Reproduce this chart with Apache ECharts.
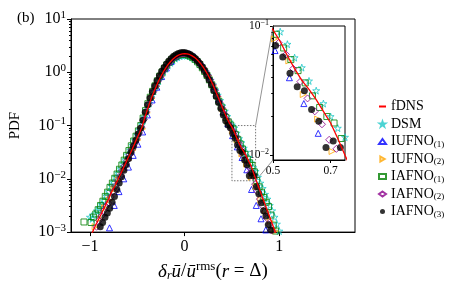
<!DOCTYPE html>
<html><head><meta charset="utf-8">
<script src="https://cdn.jsdelivr.net/npm/echarts@6/dist/echarts.min.js"></script>
<style>html,body{margin:0;padding:0;background:#fff}#c{width:462px;height:287px}</style>
</head><body><div id="c"></div>
<script>
// ---- data: [x, log10(PDF)] ----
const fdns = [[-1.0,-3.1],[-0.975,-3.01],[-0.95,-2.91],[-0.925,-2.82],[-0.9,-2.73],[-0.875,-2.64],[-0.85,-2.55],[-0.825,-2.46],[-0.8,-2.37],[-0.775,-2.26],[-0.75,-2.18],[-0.725,-2.09],[-0.7,-2.0],[-0.675,-1.91],[-0.65,-1.81],[-0.625,-1.72],[-0.6,-1.62],[-0.575,-1.53],[-0.55,-1.43],[-0.525,-1.33],[-0.5,-1.23],[-0.475,-1.13],[-0.45,-1.027],[-0.425,-0.878],[-0.4,-0.738],[-0.375,-0.606],[-0.35,-0.48],[-0.325,-0.368],[-0.3,-0.262],[-0.275,-0.164],[-0.25,-0.075],[-0.225,0.006],[-0.2,0.078],[-0.175,0.142],[-0.15,0.197],[-0.125,0.244],[-0.1,0.282],[-0.075,0.312],[-0.05,0.333],[-0.025,0.346],[0,0.35],[0.025,0.346],[0.05,0.334],[0.075,0.313],[0.1,0.285],[0.125,0.248],[0.15,0.203],[0.175,0.15],[0.2,0.088],[0.225,0.018],[0.25,-0.06],[0.275,-0.145],[0.3,-0.238],[0.325,-0.345],[0.35,-0.45],[0.375,-0.56],[0.4,-0.665],[0.425,-0.77],[0.45,-0.87],[0.475,-0.96],[0.5,-1.03],[0.525,-1.12],[0.55,-1.23],[0.575,-1.33],[0.6,-1.42],[0.625,-1.49],[0.65,-1.57],[0.675,-1.66],[0.7,-1.75],[0.725,-1.87],[0.75,-2.0],[0.775,-2.12],[0.8,-2.24],[0.825,-2.36],[0.85,-2.48],[0.875,-2.6],[0.9,-2.72],[0.925,-2.84],[0.95,-2.96],[0.975,-3.08]];

const dsm = [[-1.0,-2.72],[-0.975,-2.75],[-0.95,-2.66],[-0.925,-2.6],[-0.9,-2.55],[-0.875,-2.48],[-0.85,-2.4],[-0.825,-2.32],[-0.8,-2.24],[-0.775,-2.13],[-0.75,-2.06],[-0.725,-1.97],[-0.7,-1.89],[-0.675,-1.81],[-0.65,-1.72],[-0.625,-1.64],[-0.6,-1.55],[-0.575,-1.46],[-0.55,-1.37],[-0.525,-1.27],[-0.5,-1.18],[-0.475,-1.08],[-0.45,-0.98],[-0.425,-0.84],[-0.4,-0.71],[-0.375,-0.585],[-0.35,-0.465],[-0.325,-0.358],[-0.3,-0.258],[-0.275,-0.165],[-0.25,-0.08],[-0.225,-0.003],[-0.2,0.066],[-0.175,0.126],[-0.15,0.178],[-0.125,0.222],[-0.1,0.257],[-0.075,0.284],[-0.05,0.302],[-0.025,0.313],[0,0.316],[0.025,0.312],[0.05,0.301],[0.075,0.283],[0.1,0.257],[0.125,0.223],[0.15,0.181],[0.175,0.131],[0.2,0.072],[0.225,0.006],[0.25,-0.068],[0.275,-0.148],[0.3,-0.236],[0.325,-0.33],[0.35,-0.43],[0.375,-0.53],[0.4,-0.63],[0.425,-0.73],[0.45,-0.83],[0.475,-0.93],[0.5,-0.99],[0.525,-1.044],[0.55,-1.141],[0.575,-1.245],[0.6,-1.322],[0.625,-1.425],[0.65,-1.5],[0.675,-1.6],[0.7,-1.7],[0.725,-1.79],[0.75,-1.86],[0.775,-1.97],[0.8,-2.08],[0.825,-2.18],[0.85,-2.29],[0.875,-2.38],[0.9,-2.5],[0.925,-2.6],[0.95,-2.72],[0.975,-2.85],[1.0,-2.98]];

const iufno1 = [[-0.8,-2.92],[-0.75,-2.5],[-0.7,-2.24],[-0.65,-2.0],[-0.6,-1.78],[-0.55,-1.56],[-0.5,-1.35],[-0.45,-1.12],[-0.4,-0.8],[-0.35,-0.52],[-0.3,-0.28],[-0.25,-0.08],[-0.2,0.08],[-0.15,0.2],[-0.1,0.29],[-0.05,0.345],[0,0.362],[0.05,0.345],[0.1,0.293],[0.15,0.206],[0.2,0.085],[0.25,-0.075],[0.3,-0.27],[0.35,-0.5],[0.4,-0.74],[0.45,-0.97],[0.5,-1.19],[0.55,-1.4],[0.6,-1.6],[0.65,-1.83],[0.7,-2.2],[0.75,-2.5],[0.8,-2.75],[0.85,-2.96]];

const iufno2 = [[-0.95,-2.9],[-0.9,-2.75],[-0.85,-2.55],[-0.8,-2.4],[-0.75,-2.2],[-0.7,-2.02],[-0.65,-1.84],[-0.6,-1.65],[-0.55,-1.46],[-0.5,-1.27],[-0.45,-1.06],[-0.4,-0.76],[-0.35,-0.49],[-0.3,-0.265],[-0.25,-0.075],[-0.2,0.08],[-0.15,0.2],[-0.1,0.285],[-0.05,0.338],[0,0.355],[0.05,0.338],[0.1,0.288],[0.15,0.203],[0.2,0.085],[0.25,-0.065],[0.3,-0.245],[0.35,-0.46],[0.4,-0.69],[0.45,-0.91],[0.5,-1.1],[0.55,-1.27],[0.6,-1.53],[0.65,-1.72],[0.7,-1.97],[0.75,-2.15],[0.8,-2.4],[0.85,-2.6],[0.9,-2.8],[0.95,-2.98]];

const iafno1 = [[-1.05,-2.81],[-0.975,-2.82],[-0.95,-2.72],[-0.925,-2.66],[-0.9,-2.58],[-0.875,-2.5],[-0.85,-2.42],[-0.825,-2.33],[-0.8,-2.25],[-0.775,-2.16],[-0.75,-2.08],[-0.725,-1.99],[-0.7,-1.91],[-0.675,-1.82],[-0.65,-1.74],[-0.625,-1.65],[-0.6,-1.56],[-0.575,-1.47],[-0.55,-1.38],[-0.525,-1.29],[-0.5,-1.2],[-0.475,-1.1],[-0.45,-1.0],[-0.425,-0.86],[-0.4,-0.72],[-0.375,-0.59],[-0.35,-0.468],[-0.325,-0.358],[-0.3,-0.255],[-0.275,-0.16],[-0.25,-0.073],[-0.225,0.006],[-0.2,0.075],[-0.175,0.138],[-0.15,0.19],[-0.125,0.236],[-0.1,0.273],[-0.075,0.302],[-0.05,0.322],[-0.025,0.334],[0,0.338],[0.025,0.334],[0.05,0.322],[0.075,0.302],[0.1,0.275],[0.125,0.24],[0.15,0.196],[0.175,0.145],[0.2,0.084],[0.225,0.016],[0.25,-0.06],[0.275,-0.143],[0.3,-0.235],[0.325,-0.335],[0.35,-0.44],[0.375,-0.545],[0.4,-0.65],[0.425,-0.75],[0.45,-0.85],[0.475,-0.93],[0.5,-0.99],[0.525,-1.064],[0.55,-1.17],[0.575,-1.26],[0.6,-1.345],[0.625,-1.44],[0.65,-1.54],[0.675,-1.63],[0.7,-1.7],[0.725,-1.75],[0.75,-1.87],[0.775,-2.03],[0.8,-2.15],[0.825,-2.25],[0.85,-2.35],[0.875,-2.44],[0.9,-2.52],[0.925,-2.68],[0.95,-2.87],[0.975,-2.98]];

const iafno2 = [[-0.925,-2.9],[-0.9,-2.78],[-0.875,-2.7],[-0.85,-2.6],[-0.825,-2.52],[-0.8,-2.46],[-0.775,-2.34],[-0.75,-2.24],[-0.725,-2.13],[-0.7,-2.03],[-0.675,-1.94],[-0.65,-1.84],[-0.625,-1.75],[-0.6,-1.65],[-0.575,-1.55],[-0.55,-1.45],[-0.525,-1.35],[-0.5,-1.25],[-0.475,-1.14],[-0.45,-1.03],[-0.425,-0.885],[-0.4,-0.74],[-0.375,-0.605],[-0.35,-0.478],[-0.325,-0.366],[-0.3,-0.26],[-0.275,-0.162],[-0.25,-0.073],[-0.225,0.008],[-0.2,0.08],[-0.175,0.144],[-0.15,0.199],[-0.125,0.246],[-0.1,0.284],[-0.075,0.314],[-0.05,0.335],[-0.025,0.348],[0,0.352],[0.025,0.348],[0.05,0.336],[0.075,0.315],[0.1,0.287],[0.125,0.25],[0.15,0.205],[0.175,0.152],[0.2,0.09],[0.225,0.02],[0.25,-0.058],[0.275,-0.143],[0.3,-0.236],[0.325,-0.343],[0.35,-0.45],[0.375,-0.562],[0.4,-0.67],[0.425,-0.78],[0.45,-0.885],[0.475,-0.98],[0.5,-1.07],[0.525,-1.13],[0.55,-1.22],[0.575,-1.33],[0.6,-1.43],[0.625,-1.56],[0.65,-1.66],[0.675,-1.76],[0.7,-1.88],[0.725,-1.95],[0.75,-2.1],[0.775,-2.24],[0.8,-2.38],[0.825,-2.5],[0.85,-2.62],[0.875,-2.74],[0.9,-2.86],[0.925,-2.97]];

const iafno3 = [[-0.875,-2.9],[-0.85,-2.82],[-0.825,-2.72],[-0.8,-2.64],[-0.775,-2.55],[-0.75,-2.44],[-0.725,-2.33],[-0.7,-2.2],[-0.675,-2.08],[-0.65,-1.96],[-0.625,-1.84],[-0.6,-1.73],[-0.575,-1.62],[-0.55,-1.5],[-0.525,-1.39],[-0.5,-1.28],[-0.475,-1.16],[-0.45,-1.05],[-0.425,-0.9],[-0.4,-0.75],[-0.375,-0.61],[-0.35,-0.482],[-0.325,-0.366],[-0.3,-0.258],[-0.275,-0.158],[-0.25,-0.066],[-0.225,0.017],[-0.2,0.091],[-0.175,0.156],[-0.15,0.212],[-0.125,0.26],[-0.1,0.3],[-0.075,0.33],[-0.05,0.352],[-0.025,0.365],[0,0.37],[0.025,0.366],[0.05,0.353],[0.075,0.332],[0.1,0.302],[0.125,0.264],[0.15,0.218],[0.175,0.163],[0.2,0.1],[0.225,0.028],[0.25,-0.052],[0.275,-0.14],[0.3,-0.235],[0.325,-0.34],[0.35,-0.45],[0.375,-0.565],[0.4,-0.68],[0.425,-0.8],[0.45,-0.91],[0.475,-0.99],[0.5,-1.04],[0.525,-1.15],[0.55,-1.24],[0.575,-1.365],[0.6,-1.47],[0.625,-1.5],[0.65,-1.646],[0.675,-1.736],[0.7,-1.94],[0.725,-1.89],[0.75,-1.94],[0.775,-2.15],[0.8,-2.28],[0.825,-2.45],[0.85,-2.6],[0.875,-2.7],[0.9,-2.86],[0.925,-2.96]];

// bin-centre offsets of each model's histogram
const binOffset = { 'DSM': 0, 'IUFNO(1)': 0.007, 'IUFNO(2)': 0.005, 'IAFNO(1)': -0.013, 'IAFNO(2)': -0.005, 'IAFNO(3)': -0.016 };

const seriesNames = ['fDNS', 'DSM', 'IUFNO(1)', 'IUFNO(2)', 'IAFNO(1)', 'IAFNO(2)', 'IAFNO(3)'];
const xTickLabels = [-1, 0, 1];
const yTickLabels = [0.001, 0.01, 0.1, 1, 10];
const zoomX = [0.5, 0.75];
const zoomY = [0.0092, 0.1];
const zoomXTicks = [0.5, 0.7];
const zoomYTicks = [0.01, 0.1];

// ---- build ----
const FONT = 'Liberation Serif';
function toPts(pairs, off) { return pairs.map(p => [p[0] + (off || 0), Math.pow(10, p[1])]); }
function minorTicks(lo, hi) { const out = []; for (let e = lo; e < hi; e++) for (let m = 2; m <= 9; m++) out.push(m * Math.pow(10, e)); return out; }
function powLabel(v) { const e = Math.round(Math.log10(v)); return '{n|10}{e|' + (e < 0 ? '\u2212' + (-e) : e) + '}'; }

const STAR = 'path://M12,0 L14.9,8.5 L24,8.5 L16.6,13.9 L19.4,22.5 L12,17.1 L4.6,22.5 L7.4,13.9 L0,8.5 L9.1,8.5 Z';
const RTRI = 'path://M0,0 L8.66,5 L0,10 Z';
const markers = {
  'DSM':      { symbol: STAR, color: '#1ec8c8', size: 7, rot: 0, fill: false },
  'IUFNO(1)': { symbol: 'triangle', color: '#0000ff', size: 6, rot: 0, fill: false },
  'IUFNO(2)': { symbol: 'triangle', color: '#ffa500', size: 6, rot: -90, fill: false },
  'IAFNO(1)': { symbol: 'rect', color: '#008000', size: 6, rot: 0, fill: false },
  'IAFNO(2)': { symbol: 'diamond', color: '#8b008b', size: 7, rot: 0, fill: false },
  'IAFNO(3)': { symbol: 'circle', color: '#000000', size: 7, rot: 0, fill: true }
};
const modelData = { 'DSM': dsm, 'IUFNO(1)': iufno1, 'IUFNO(2)': iufno2, 'IAFNO(1)': iafno1, 'IAFNO(2)': iafno2, 'IAFNO(3)': iafno3 };

const series = [];
[[0, 0], [1, 2]].forEach(([xi, yi]) => {
  Object.keys(markers).forEach(name => {
    const m = markers[name];
    series.push({
      type: 'scatter', name: name, xAxisIndex: xi, yAxisIndex: yi,
      data: toPts(modelData[name], binOffset[name]),
      symbol: m.symbol, symbolSize: m.size, symbolRotate: m.rot, clip: true,
      itemStyle: m.fill ? { color: m.color } : { color: 'rgba(255,255,255,0)', borderColor: m.color, borderWidth: 1 },
      emphasis: { disabled: true }, z: 4
    });
  });
  series.push({
    type: 'line', name: 'fDNS', xAxisIndex: xi, yAxisIndex: yi, data: toPts(fdns, 0),
    symbol: 'none', showSymbol: false, clip: true, lineStyle: { color: '#ff0000', width: 1.3 },
    itemStyle: { color: '#ff0000', opacity: 0 }, z: 6
  });
});
// zoom rectangle in main axes
series.push({
  type: 'line', xAxisIndex: 0, yAxisIndex: 0, symbol: 'none', silent: true, z: 1,
  data: [[zoomX[0], zoomY[1]], [zoomX[1], zoomY[1]], [zoomX[1], zoomY[0]], [zoomX[0], zoomY[0]], [zoomX[0], zoomY[1]]],
  lineStyle: { color: '#555', width: 0.8, type: [1.5, 1.5] }
});

const legendData = seriesNames.map(n => n === 'IUFNO(2)' ? { name: n, icon: RTRI } : { name: n });

const axisText = { color: '#000', fontFamily: FONT };
const chart = echarts.init(document.getElementById('c'), null, { renderer: 'canvas' });
chart.setOption({
  animation: false,
  backgroundColor: '#fff',
  title: { text: '(b)', left: 12, top: 6, textStyle: { fontFamily: FONT, fontSize: 15, fontWeight: 'normal', color: '#000' } },
  legend: {
    data: legendData, orient: 'vertical', left: 378, top: 99, padding: 0, itemWidth: 7, itemHeight: 5, itemGap: 2.5,
    symbolKeepAspect: true, selectedMode: false,
    textStyle: { fontFamily: FONT, fontSize: 14, color: '#000', lineHeight: 15,
      rich: { sub: { fontFamily: FONT, fontSize: 9, color: '#000', padding: [6, 0, 0, 0] } } },
    formatter: n => n.replace(/\((\d)\)/, '{sub|($1)}')
  },
  grid: [
    { left: 62, top: 19, width: 293, height: 218, show: true, borderColor: '#000', borderWidth: 1, backgroundColor: 'transparent' },
    { left: 273, top: 26, width: 72, height: 134, show: true, borderColor: '#000', borderWidth: 1, backgroundColor: '#fff' }
  ],
  xAxis: [
    { type: 'value', gridIndex: 0, min: -1.2, max: 1.8, splitLine: { show: false },
      axisLine: { onZero: false, lineStyle: { color: '#000', width: 1 } },
      axisTick: { customValues: xTickLabels, length: 4, lineStyle: { color: '#000' } },
      axisLabel: { customValues: xTickLabels, margin: 7, fontSize: 16, ...axisText, formatter: v => (v < 0 ? '\u2212' + (-v) : '' + v) },
      name: '{it|\u03b4}{sub|r}{it|\u016b}{rm|/}{it|\u016b}{sup|rms}{rm|(}{it|r}{rm| = \u0394)}',
      nameLocation: 'middle', nameGap: 21,
      nameTextStyle: { ...axisText, rich: {
        it: { fontFamily: FONT, fontSize: 19, fontStyle: 'italic', color: '#000' },
        rm: { fontFamily: FONT, fontSize: 19, color: '#000' },
        sub: { fontFamily: FONT, fontSize: 12, fontStyle: 'italic', color: '#000', padding: [9, 0, 0, 0] },
        sup: { fontFamily: FONT, fontSize: 13, color: '#000', padding: [0, 0, 10, 0] } } } },
    { type: 'value', gridIndex: 1, min: zoomX[0], max: zoomX[1], splitLine: { show: false },
      axisLine: { onZero: false, lineStyle: { color: '#000', width: 1 } },
      axisTick: { customValues: zoomXTicks, length: 3, lineStyle: { color: '#000' } },
      axisLabel: { customValues: zoomXTicks, margin: 5, fontSize: 11.5, ...axisText, formatter: v => v.toFixed(1) } }
  ],
  yAxis: [
    { type: 'log', logBase: 10, gridIndex: 0, position: 'left', min: 0.001, max: 10, splitLine: { show: false },
      axisLine: { onZero: false, lineStyle: { color: '#000', width: 1 } },
      axisTick: { customValues: yTickLabels, length: 4, lineStyle: { color: '#000' } },
      axisLabel: { customValues: yTickLabels, margin: 5, ...axisText, formatter: powLabel,
        rich: { n: { fontFamily: FONT, fontSize: 16, color: '#000' }, e: { fontFamily: FONT, fontSize: 11, color: '#000', padding: [0, 0, 8, 0] } } },
      name: 'PDF', nameLocation: 'middle', nameGap: 48, nameRotate: 90, nameTextStyle: { ...axisText, fontSize: 15 } },
    { type: 'log', logBase: 10, gridIndex: 0, position: 'left', min: 0.001, max: 10, splitLine: { show: false },
      axisLine: { show: false, onZero: false },
      axisTick: { customValues: minorTicks(-3, 1), length: 2, lineStyle: { color: '#000' } }, axisLabel: { show: false } },
    { type: 'log', logBase: 10, gridIndex: 1, position: 'left', min: zoomY[0], max: zoomY[1], splitLine: { show: false },
      axisLine: { onZero: false, lineStyle: { color: '#000', width: 1 } },
      axisTick: { customValues: zoomYTicks, length: 3, lineStyle: { color: '#000' } },
      axisLabel: { customValues: zoomYTicks, margin: 4, ...axisText, formatter: powLabel,
        rich: { n: { fontFamily: FONT, fontSize: 11.5, color: '#000' }, e: { fontFamily: FONT, fontSize: 8, color: '#000', padding: [0, 0, 6, 0] } } } },
    { type: 'log', logBase: 10, gridIndex: 1, position: 'left', min: zoomY[0], max: zoomY[1], splitLine: { show: false },
      axisLine: { show: false, onZero: false },
      axisTick: { customValues: minorTicks(-2, -1), length: 1.8, lineStyle: { color: '#000' } }, axisLabel: { show: false } }
  ],
  series: series
});

// connector lines from the zoom rectangle to the inset axes
const a1 = chart.convertToPixel({ xAxisIndex: 0, yAxisIndex: 0 }, [zoomX[1], zoomY[1]]);
const a2 = chart.convertToPixel({ xAxisIndex: 0, yAxisIndex: 0 }, [zoomX[1], zoomY[0]]);
const b1 = chart.convertToPixel({ xAxisIndex: 1, yAxisIndex: 2 }, [zoomX[0], zoomY[1]]);
const b2 = chart.convertToPixel({ xAxisIndex: 1, yAxisIndex: 2 }, [zoomX[0], zoomY[0]]);
chart.setOption({ graphic: [
  { type: 'line', shape: { x1: a1[0], y1: a1[1], x2: b1[0], y2: b1[1] }, style: { stroke: '#777', lineWidth: 0.8 }, silent: true, z: 1 },
  { type: 'line', shape: { x1: a2[0], y1: a2[1], x2: b2[0], y2: b2[1] }, style: { stroke: '#777', lineWidth: 0.8 }, silent: true, z: 1 }
] });
</script></body></html>
